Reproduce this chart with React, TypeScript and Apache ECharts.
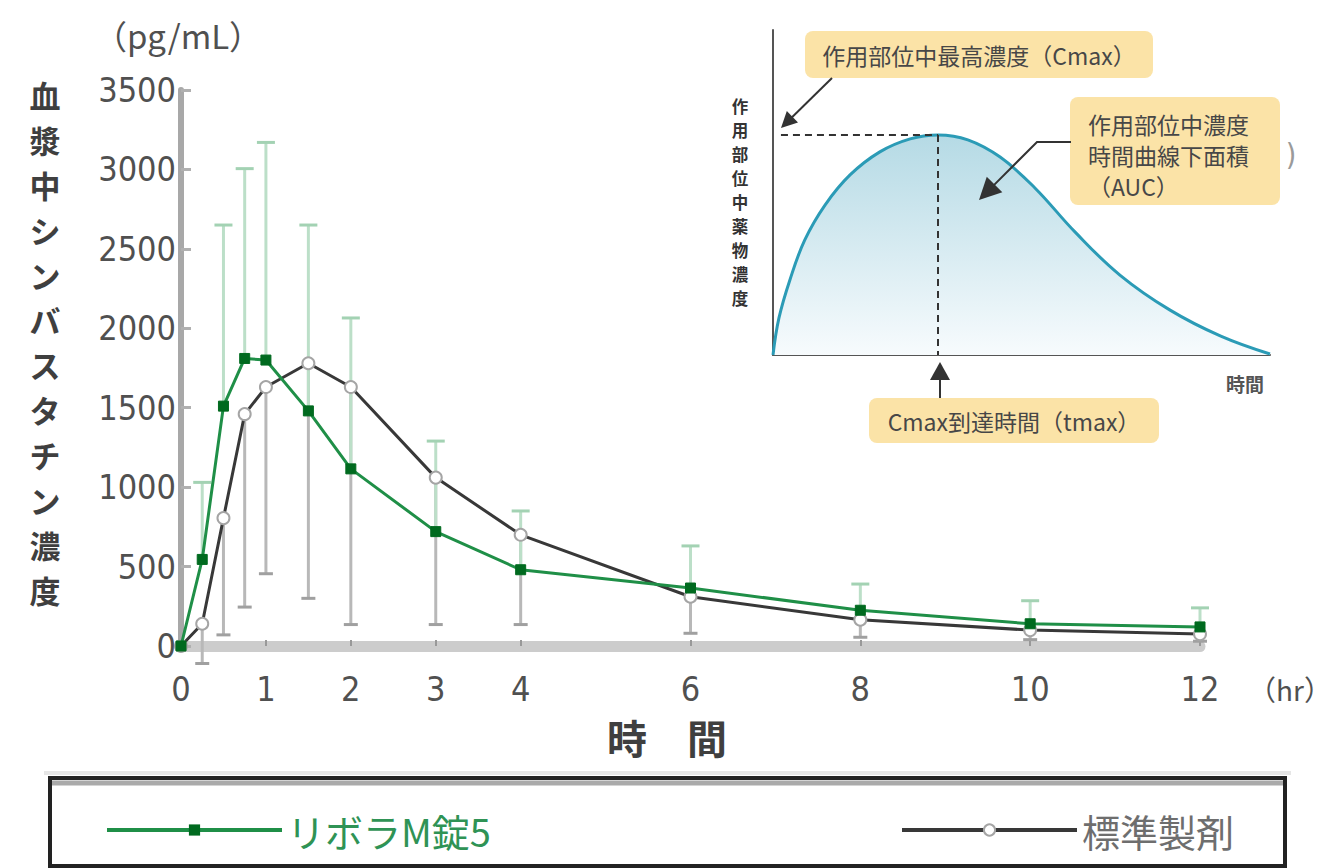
import React, { useEffect, useRef } from 'react';
import * as echarts from 'echarts';

// ---- main chart data ----
const times = [0, 0.25, 0.5, 0.75, 1, 1.5, 2, 3, 4, 6, 8, 10, 12];
const riboraMean = [0, 545, 1510, 1810, 1800, 1480, 1115, 720, 480, 365, 225, 140, 120];
const riboraUpper = [0, 1030, 2650, 3005, 3170, 2650, 2065, 1290, 850, 630, 390, 285, 240];
const standardMean = [0, 140, 805, 1460, 1630, 1780, 1630, 1060, 700, 310, 165, 100, 75];
const standardLower = [0, -110, 70, 245, 455, 300, 135, 135, 135, 80, 55, 40, 30];
const xTickValues = [0, 1, 2, 3, 4, 6, 8, 10, 12];
const yTickMin = 0;
const yTickMax = 3500;
const yTickStep = 500;

const riboraName = 'リボラM錠5';
const standardName = '標準製剤';

// ---- inset schematic curve (percent of inset box) ----
const insetX = [0, 1.2, 3.4, 6.4, 10.5, 15.5, 21.5, 27.6, 33.2, 39.2, 45.7, 52.7, 60.8, 69.8, 79.9, 90.1, 100];
const insetY = [0, 11.4, 23.1, 35.4, 46.2, 55.4, 62.5, 66.5, 67.7, 66.2, 60.9, 51.4, 37.8, 24.6, 13.8, 5.8, 0.3];
const insetPeakX = 33.2;
const insetPeakY = 67.7;

const CJK = "'Noto Sans CJK JP', sans-serif";
const NUM = "'DejaVu Sans Condensed', 'Liberation Sans Narrow', 'DejaVu Sans', sans-serif";

function arrow(pts: number[][], head: number, hw: number, color: string) {
  const n = pts.length;
  const [tx, ty] = pts[n - 1];
  const [sx, sy] = pts[n - 2];
  const dx = tx - sx, dy = ty - sy;
  const len = Math.hypot(dx, dy);
  const ux = dx / len, uy = dy / len;
  const bx = tx - ux * head, by = ty - uy * head;
  const linePts = pts.slice(0, n - 1).concat([[bx + ux * 2, by + uy * 2]]);
  return {
    type: 'group',
    z: 50,
    children: [
      { type: 'polyline', z: 50, shape: { points: linePts }, style: { stroke: color, lineWidth: 2, fill: null } },
      {
        type: 'polygon', z: 50,
        shape: { points: [[tx, ty], [bx - uy * hw, by + ux * hw], [bx + uy * hw, by - ux * hw]] },
        style: { fill: color },
      },
    ],
  };
}

function errorBar(barColor: string, capColor: string, capHalf: number) {
  return (params: any, api: any) => {
    const x = api.value(0);
    const y = api.value(1);
    const e = api.value(2);
    const p0 = api.coord([x, y]);
    const p1 = api.coord([x, e]);
    return {
      type: 'group',
      children: [
        { type: 'line', shape: { x1: p0[0], y1: p0[1], x2: p1[0], y2: p1[1] }, style: { stroke: barColor, lineWidth: 3 } },
        { type: 'line', shape: { x1: p1[0] - capHalf, y1: p1[1], x2: p1[0] + capHalf, y2: p1[1] }, style: { stroke: capColor, lineWidth: 3 } },
      ],
    };
  };
}

function verticalText(str: string, cx: number, top: number, pitch: number, size: number, color: string, bold: boolean) {
  return str.split('').map((ch, i) => ({
    type: 'text', z: 50, x: cx, y: top + pitch * i + pitch / 2,
    style: { text: ch, fontSize: size, fontWeight: bold ? 'bold' : 'normal', fontFamily: CJK, fill: color, align: 'center', verticalAlign: 'middle' },
  }));
}

export default function App() {
  const ref = useRef<HTMLDivElement>(null);
  useEffect(() => {
    if (!ref.current) return;
    const chart = echarts.init(ref.current, null, { renderer: 'svg' });

    const riboraPts = times.map((t, i) => [t, riboraMean[i]]);
    const standardPts = times.map((t, i) => [t, standardMean[i]]);
    const riboraErr = times.map((t, i) => [t, riboraMean[i], riboraUpper[i]]).filter((d, i) => i > 0);
    const standardErr = times.map((t, i) => [t, standardMean[i], standardLower[i]]).filter((d, i) => i > 0);
    const insetPts = insetX.map((x, i) => [x, insetY[i]]);

    const option: any = {
      animation: false,
      backgroundColor: '#ffffff',
      grid: [
        { left: 181, top: 90, width: 1019, height: 556 },
        { left: 773, top: 30, width: 497, height: 325 },
      ],
      xAxis: [
        {
          type: 'value', gridIndex: 0, min: 0, max: 12, interval: 1,
          axisLine: { onZero: false, lineStyle: { color: '#cccccc', width: 11 } },
          axisTick: { show: true, inside: true, length: 6, customValues: xTickValues, lineStyle: { color: '#999999', width: 2 } },
          axisLabel: { customValues: xTickValues, fontSize: 34, margin: 26, color: '#505050', fontFamily: NUM },
          splitLine: { show: false },
        },
        {
          type: 'value', gridIndex: 1, min: 0, max: 100,
          axisLine: { lineStyle: { color: '#555555', width: 2 } },
          axisTick: { show: false }, axisLabel: { show: false }, splitLine: { show: false },
        },
      ],
      yAxis: [
        {
          type: 'value', gridIndex: 0, min: yTickMin, max: yTickMax, interval: yTickStep,
          axisLine: { show: true, lineStyle: { color: '#a8a8a8', width: 6 } },
          axisTick: { show: true, inside: true, length: 10, lineStyle: { color: '#b0b0b0', width: 3 } },
          axisLabel: { fontSize: 34, margin: 5, color: '#505050', fontFamily: NUM, formatter: (v: number) => String(v) },
          splitLine: { show: false },
        },
        {
          type: 'value', gridIndex: 1, min: 0, max: 100,
          axisLine: { show: true, lineStyle: { color: '#555555', width: 2 } },
          axisTick: { show: false }, axisLabel: { show: false }, splitLine: { show: false },
        },
      ],
      legend: [
        {
          data: [riboraName], left: 100, top: 806, itemWidth: 175, itemHeight: 14, selectedMode: false,
          lineStyle: { width: 4 },
          textStyle: { fontSize: 38, fontFamily: CJK, color: '#2f9355' },
        },
        {
          data: [standardName], left: 895, top: 806, itemWidth: 175, itemHeight: 14, selectedMode: false,
          lineStyle: { width: 4 },
          textStyle: { fontSize: 38, fontFamily: CJK, color: '#6e6e6e' },
        },
      ],
      series: [
        {
          type: 'custom', name: 'standardErr', xAxisIndex: 0, yAxisIndex: 0, z: 2, clip: false,
          renderItem: errorBar('#b8b8b8', '#a0a0a0', 7), data: standardErr, silent: true,
        },
        {
          type: 'custom', name: 'riboraErr', xAxisIndex: 0, yAxisIndex: 0, z: 2, clip: false,
          renderItem: errorBar('#bcdfc8', '#a3d2b3', 9), data: riboraErr, silent: true,
        },
        {
          type: 'line', name: standardName, xAxisIndex: 0, yAxisIndex: 0, z: 3, data: standardPts,
          symbol: 'circle', symbolSize: 12, showSymbol: true,
          lineStyle: { color: '#383838', width: 3 },
          itemStyle: { color: '#ffffff', borderColor: '#a5a5a5', borderWidth: 2 },
        },
        {
          type: 'line', name: riboraName, xAxisIndex: 0, yAxisIndex: 0, z: 4, data: riboraPts,
          symbol: 'rect', symbolSize: 10, showSymbol: true,
          lineStyle: { color: '#1f8f47', width: 3 },
          itemStyle: { color: '#006a1f', borderColor: '#006a1f' },
        },
        {
          type: 'line', name: 'inset', xAxisIndex: 1, yAxisIndex: 1, z: 1, data: insetPts,
          smooth: 0.4, showSymbol: false, silent: true,
          lineStyle: { color: '#2b9bb6', width: 3 },
          areaStyle: {
            color: new echarts.graphic.LinearGradient(0, 0, 0, 1, [
              { offset: 0, color: '#b5dae5' },
              { offset: 1, color: '#f7fbfd' },
            ]),
            opacity: 1,
          },
          markLine: {
            silent: true, symbol: 'none', label: { show: false },
            lineStyle: { color: '#333333', width: 2, type: [7, 5] },
            data: [
              [{ coord: [1.6, insetPeakY] }, { coord: [insetPeakX, insetPeakY] }],
              [{ coord: [insetPeakX, insetPeakY] }, { coord: [insetPeakX, 0] }],
            ],
          },
        },
      ],
      graphic: [
        // main axis titles
        ...verticalText('血漿中シンバスタチン濃度', 45, 72, 45, 31, '#3f3f3f', true),
        { type: 'text', z: 50, x: 178, y: 35, style: { text: '（pg/mL）', fontSize: 33, fontFamily: CJK, fill: '#505050', align: 'center', verticalAlign: 'middle' } },
        { type: 'text', z: 50, x: 1290, y: 689, style: { text: '（hr）', fontSize: 28, fontFamily: CJK, fill: '#505050', align: 'center', verticalAlign: 'middle' } },
        { type: 'text', z: 50, x: 667, y: 737, style: { text: '時　間', fontSize: 40, fontWeight: 'bold', fontFamily: CJK, fill: '#3f3f3f', align: 'center', verticalAlign: 'middle' } },
        // legend frame
        { type: 'line', z: 50, shape: { x1: 44, y1: 773, x2: 1291, y2: 773 }, style: { stroke: '#e6e6e6', lineWidth: 4 } },
        { type: 'rect', z: 50, shape: { x: 50, y: 778, width: 1235, height: 88 }, style: { fill: null, stroke: '#222222', lineWidth: 4 } },
        { type: 'line', z: 50, shape: { x1: 52, y1: 783, x2: 1283, y2: 783 }, style: { stroke: '#aaaaaa', lineWidth: 5 } },
        // inset labels
        ...verticalText('作用部位中薬物濃度', 740, 94, 24, 16.5, '#333333', true),
        { type: 'text', z: 50, x: 1245, y: 383, style: { text: '時間', fontSize: 19, fontWeight: 'bold', fontFamily: CJK, fill: '#555555', align: 'center', verticalAlign: 'middle' } },
        { type: 'rect', z: 50, shape: { x: 805, y: 31, width: 348, height: 47, r: 8 }, style: { fill: '#fbe3a7' } },
        { type: 'text', z: 51, x: 979, y: 55, style: { text: '作用部位中最高濃度（Cmax）', fontSize: 23, fontFamily: CJK, fill: '#474747', align: 'center', verticalAlign: 'middle' } },
        { type: 'rect', z: 50, shape: { x: 1070, y: 97, width: 210, height: 108, r: 8 }, style: { fill: '#fbe3a7' } },
        { type: 'text', z: 51, x: 1088, y: 108, style: { text: '作用部位中濃度\n時間曲線下面積\n（AUC）', fontSize: 23, lineHeight: 31, fontFamily: CJK, fill: '#474747', align: 'left', verticalAlign: 'top' } },
        { type: 'rect', z: 50, shape: { x: 869, y: 398, width: 290, height: 45, r: 8 }, style: { fill: '#fbe3a7' } },
        { type: 'text', z: 51, x: 1014, y: 421, style: { text: 'Cmax到達時間（tmax）', fontSize: 23, fontFamily: CJK, fill: '#474747', align: 'center', verticalAlign: 'middle' } },
        { type: 'text', z: 50, x: 1291, y: 154, style: { text: ')', fontSize: 30, fontFamily: NUM, fill: '#9a9a9a', align: 'center', verticalAlign: 'middle' } },
        arrow([[832, 78], [781, 128]], 16, 8, '#333333'),
        arrow([[1071, 142], [1037, 142], [979, 200]], 22, 11, '#333333'),
        arrow([[940, 398], [940, 362]], 18, 10, '#333333'),
      ],
    };
    chart.setOption(option);
    return () => chart.dispose();
  }, []);
  return <div ref={ref} style={{ position: 'absolute', left: 0, top: 0, width: 1332, height: 868, background: '#fff' }} />;
}
